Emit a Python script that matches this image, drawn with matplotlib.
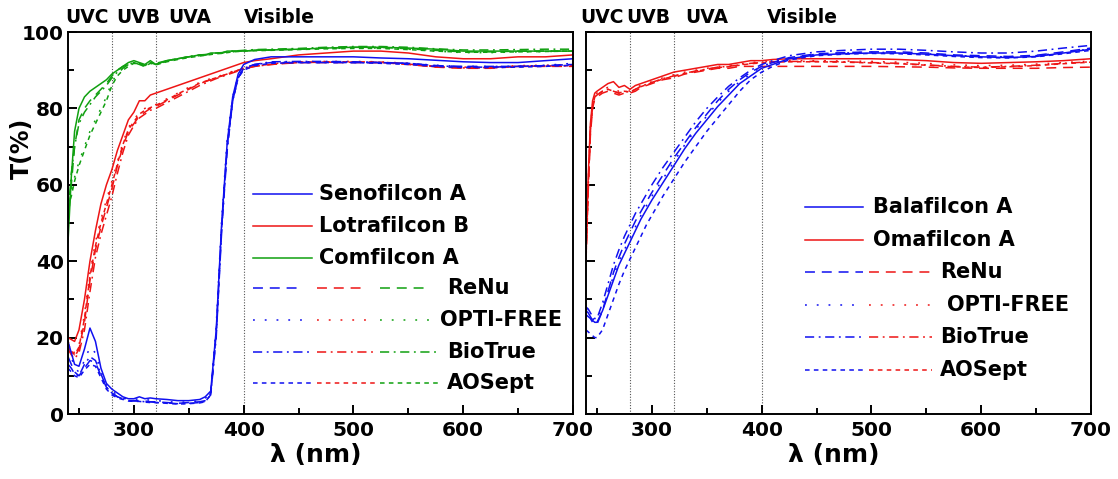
import numpy as np
import matplotlib
matplotlib.use("Agg")
import matplotlib.pyplot as plt
from matplotlib.ticker import MultipleLocator

plt.rcParams['font.family'] = ['DejaVu Sans']
plt.rcParams['font.weight'] = 'bold'

# ---- data ----
wl_left = [240, 243, 246, 250, 255, 260, 265, 270, 275, 280, 285, 290, 295, 300, 305,
           310, 315, 320, 330, 340, 350, 360, 365, 370, 375, 380, 385, 390, 395, 400,
           410, 425, 450, 475, 500, 525, 550, 575, 600, 625, 650, 675, 700]

seno_none = [19, 16, 13, 12.5, 17, 22.5, 19, 12, 8, 6.5, 5.5, 4.5, 4, 4, 4.5, 4, 4.2, 4, 3.8, 3.5,
             3.5, 3.8, 4.5, 6, 22, 50, 71, 83, 89, 91.5, 92.8, 93.5, 93.5, 93.5, 93.5, 93.2, 93, 92.6,
             92.2, 92, 92, 92.5, 93]
seno_renu = [15, 13, 11, 10, 12, 14, 13.5, 10, 7, 5.5, 4.5, 4, 3.5, 3.5, 3.5, 3.4, 3.2, 3.2, 3, 2.8,
             3, 3.2, 3.5, 5.5, 21, 49, 70, 82, 88, 90.5, 91.5, 92, 92, 92, 92, 92, 91.8, 91.2, 91, 91,
             91, 91.2, 91.5]
seno_opti = [17, 15, 12, 11, 14, 17.5, 16, 11, 7.5, 6, 5, 4.2, 3.8, 3.8, 4, 3.8, 3.6, 3.5, 3.3, 3,
             3.2, 3.4, 4, 6, 23, 51, 72, 83, 88.5, 90.5, 91.5, 92, 92.2, 92.2, 92, 92, 91.8, 91.3, 91,
             91, 91, 91.3, 91.8]
seno_bio = [13, 12, 10.5, 10, 13, 15, 14, 10.5, 7, 5.5, 4.5, 4, 3.5, 3.4, 3.4, 3.2, 3.2, 3, 2.9, 2.7,
            2.8, 3, 3.3, 5, 20, 48, 69, 82, 88, 90.5, 91.5, 92.2, 92.3, 92.3, 92.2, 92, 91.8, 91.2,
            90.8, 90.8, 91, 91.2, 91.5]
seno_aosept = [12, 11, 10, 9.5, 11.5, 13, 12.5, 9.5, 6.5, 5, 4.2, 3.8, 3.4, 3.3, 3.3, 3.1, 3, 3, 2.8,
               2.6, 2.7, 2.9, 3.2, 5, 21, 49, 70, 82, 88, 90, 91.2, 91.8, 92, 92, 92, 91.8, 91.5, 91,
               90.7, 90.7, 90.8, 91, 91.3]

lotra_none = [20, 19.5, 19, 22, 30, 40, 48, 55, 60, 64, 69, 73, 77, 79, 82, 82, 83.5, 84, 85, 86,
              87, 88, 88.5, 89, 89.5, 90, 90.5, 91, 91.5, 92, 92.5, 93, 94, 94.5, 95, 95, 94.5, 93.5,
              93, 93, 93.5, 93.5, 94]
lotra_renu = [18, 16, 15, 17, 24, 35, 43, 49, 54, 59, 65, 70, 74, 76, 78, 79, 80, 80.5, 82, 83.5,
              85, 86.5, 87, 87.5, 88, 88.5, 89, 89.5, 90, 90.5, 91, 91.5, 92, 92, 92, 92, 91.5, 90.8,
              90.5, 90.5, 91, 91, 91]
lotra_opti = [19, 17, 16, 18, 26, 37, 45, 51, 56, 61, 66, 71, 75, 77, 79, 80, 80.5, 81, 82.5, 84,
              85.5, 86.8, 87.3, 87.8, 88.2, 88.7, 89.2, 89.7, 90.2, 90.6, 91.2, 91.7, 92.2, 92.3,
              92.3, 92.2, 91.8, 91, 90.8, 90.8, 91.2, 91.3, 91.4]
lotra_bio = [17, 15.5, 14.5, 16, 22, 32, 41, 47, 52, 57, 63, 68.5, 73, 75.5, 77.5, 78.5, 79.5, 80,
             81.5, 83, 84.5, 86, 86.6, 87.2, 87.8, 88.3, 88.8, 89.3, 89.8, 90.3, 91, 91.5, 92, 92.1,
             92.1, 92, 91.6, 90.9, 90.6, 90.7, 91, 91.1, 91.2]
lotra_aosept = [18.5, 16.5, 15.5, 17.5, 25, 36, 44, 50, 55, 60, 65.5, 70.5, 74.5, 76.5, 78.5, 79.5,
                80.2, 80.8, 82.2, 83.8, 85.2, 86.6, 87.1, 87.6, 88, 88.5, 89, 89.5, 90, 90.4, 91.1,
                91.6, 92.1, 92.2, 92.2, 92.1, 91.7, 90.9, 90.6, 90.6, 91, 91.1, 91.2]

comf_none = [45, 62, 74, 80, 83, 84.5, 85.5, 86.5, 87.5, 89, 90, 91, 92, 92.5, 92, 91.5, 92.5, 91.5,
             92.5, 93, 93.5, 94, 94, 94.5, 94.5, 94.5, 95, 95, 95, 95, 95.2, 95.3, 95.5, 95.8, 96, 96,
             95.8, 95.5, 95, 95, 95, 95, 95]
comf_renu = [50, 60, 70, 77, 80, 82, 83.5, 85, 86.5, 88.5, 90, 91, 91.5, 92, 91.5, 91.5, 92, 91.5,
             92.5, 93, 93.5, 94, 94, 94.2, 94.5, 94.5, 94.8, 95, 95, 95, 95.2, 95.3, 95.5, 95.8, 96,
             96, 95.6, 95.2, 94.8, 94.8, 95, 95, 95]
comf_opti = [56, 58, 62, 66, 70, 74, 77, 80, 83, 87, 89, 90.5, 91.5, 92, 91.5, 91, 92, 91.5, 92.3,
             93, 93.5, 93.8, 94, 94.2, 94.3, 94.5, 94.7, 94.8, 95, 95, 95.2, 95.3, 95.5, 95.7, 95.8,
             95.8, 95.5, 95, 94.6, 94.6, 94.8, 94.9, 95]
comf_bio = [52, 63, 70, 76, 79, 81, 83, 84.5, 86, 88, 89.5, 90.5, 91.5, 92, 91.8, 91.2, 92, 91.8,
            92.5, 93, 93.6, 94, 94.1, 94.3, 94.5, 94.6, 94.8, 95, 95.1, 95.2, 95.4, 95.5, 95.7, 96,
            96.2, 96.2, 96, 95.6, 95.3, 95.3, 95.4, 95.5, 95.5]
comf_aosept = [54, 57, 61, 65, 69, 73, 76, 79, 82, 86, 88.5, 90, 91, 91.8, 91.5, 91, 91.8, 91.4,
               92.2, 92.8, 93.3, 93.7, 93.9, 94.1, 94.3, 94.4, 94.6, 94.8, 94.9, 95, 95.1, 95.2,
               95.4, 95.6, 95.7, 95.7, 95.4, 95, 94.7, 94.7, 94.8, 94.9, 95]

wl_right = [240, 242, 244, 246, 248, 250, 255, 260, 265, 270, 275, 280, 285, 290, 295, 300, 310,
            320, 330, 340, 350, 360, 370, 380, 390, 400, 410, 425, 450, 475, 500, 525, 550, 575,
            600, 625, 650, 675, 700]

bala_none = [27, 26.5, 25.5, 24.5, 24, 24, 27, 31, 35, 39, 42, 45, 48, 51, 53.5, 56, 60.5, 65, 69.5,
             73.5, 77, 80.5, 83.5, 86.5, 88.5, 90.5, 91.5, 93, 94, 94.3, 94.5, 94.5, 94.2, 93.8,
             93.5, 93.3, 93.6, 94.5, 95.5]
bala_renu = [26, 25.5, 25, 24, 23.5, 23.5, 27, 32, 37, 41, 44.5, 47.5, 50.5, 53, 55.5, 58, 62.5, 67,
             71, 75, 78.5, 82, 85, 87.5, 89.5, 91, 92, 93.3, 94.3, 94.6, 94.8, 94.8, 94.5, 94, 93.8,
             93.6, 93.9, 94.8, 95.8]
bala_opti = [27.5, 27, 26, 25, 24.5, 24.5, 28, 32, 36, 40, 43, 46, 49, 52, 54.5, 57, 61.5, 66, 70.5,
             74.5, 78, 81.5, 84.5, 87, 89, 91, 92, 93.2, 94.2, 94.5, 94.7, 94.6, 94.3, 93.9, 93.6,
             93.5, 93.8, 94.6, 95.6]
bala_bio = [28, 27.5, 26.5, 25.5, 25, 25, 29, 34, 39, 43, 46.5, 49.5, 52.5, 55, 57.5, 60, 64.5,
            68.5, 72.5, 76.5, 80, 83, 85.8, 88, 90, 91.5, 92.5, 93.8, 94.8, 95.2, 95.5, 95.5, 95.2,
            94.8, 94.5, 94.5, 95, 95.8, 96.5]
bala_aosept = [22, 21.5, 21, 20.5, 20, 20, 22, 26, 30, 34, 37.5, 40.5, 43.5, 46.5, 49.5, 52, 57,
               61.5, 66, 70, 74, 77.5, 81, 84.5, 87.5, 89.5, 91, 92.7, 93.8, 94.2, 94.4, 94.3, 94,
               93.6, 93.3, 93.2, 93.5, 94.3, 95.2]

oma_none = [42, 62, 76, 82, 84, 84.5, 85.5, 86.5, 87, 85.5, 86, 85, 86, 86.5, 87, 87.5, 88.5, 89.5,
            90, 90.5, 91, 91.5, 91.5, 92, 92.5, 92.5, 92.8, 93, 93, 93, 93, 92.8, 92.5, 92, 91.8,
            92, 92.2, 92.5, 93]
oma_renu = [40, 58, 73, 80, 82.5, 83, 84, 84.5, 84, 83.5, 84, 84, 84.5, 85.5, 86, 86.5, 87.5, 88,
            89, 89.5, 90, 90.5, 90.5, 91, 91, 91, 91, 91, 91, 91, 91, 90.9, 90.8, 90.6, 90.5, 90.5,
            90.5, 90.7, 90.8]
oma_opti = [41, 60, 75, 81, 83.5, 84, 85, 85.5, 85, 84.5, 85, 84.5, 85.5, 86, 86.5, 87, 88, 88.8,
            89.5, 90, 90.5, 91, 91.2, 91.6, 92, 92.2, 92.4, 92.5, 92.5, 92.4, 92.3, 92.1, 91.8,
            91.4, 91.2, 91.3, 91.6, 92, 92.4]
oma_bio = [41, 59, 74, 80.5, 83, 83.5, 84.5, 85, 84.5, 84, 84.5, 84.2, 85, 85.8, 86.3, 86.8, 87.8,
           88.5, 89.2, 89.8, 90.3, 90.8, 91, 91.4, 91.8, 92, 92.2, 92.3, 92.3, 92.2, 92, 91.8, 91.4,
           91, 90.8, 91, 91.3, 91.8, 92.2]
oma_aosept = [40.5, 59, 74, 80.5, 83, 83.5, 84.5, 85, 84.5, 84, 84.5, 84.3, 85, 85.7, 86.2, 86.7,
              87.7, 88.4, 89.1, 89.7, 90.2, 90.7, 90.9, 91.3, 91.7, 91.9, 92.1, 92.2, 92.2, 92.1,
              91.9, 91.7, 91.3, 90.9, 90.7, 90.9, 91.2, 91.7, 92.1]

region_names = ['UVC', 'UVB', 'UVA', 'Visible']
region_pos_left = [257, 304, 351, 433]
region_pos_right = [255, 297, 350, 437]
region_bounds = [280, 320, 400]

solutions = ['ReNu', 'OPTI-FREE', 'BioTrue', 'AOSept']

# ---- styles ----
BLUE, RED, GREEN = '#1010f0', '#ee1515', '#10a010'
LW = 1.1
styles = ['-', (0, (6.5, 4.5)), (0, (1.2, 6.5)), (0, (6, 3, 1.2, 3)), (0, (3, 2.8))]

W, H = 1118, 479
fig = plt.figure(figsize=(W / 100, H / 100), dpi=100)
ax_l = fig.add_axes([68 / W, (H - 414) / H, 505 / W, 382 / H])
ax_r = fig.add_axes([586 / W, (H - 414) / H, 505 / W, 382 / H])


def setup(ax, ylabels, region_pos):
    ax.set_xlim(240, 700)
    ax.set_ylim(0, 100)
    ax.xaxis.set_major_locator(MultipleLocator(100))
    ax.xaxis.set_minor_locator(MultipleLocator(50))
    ax.yaxis.set_major_locator(MultipleLocator(20))
    ax.yaxis.set_minor_locator(MultipleLocator(10))
    ax.tick_params(which='both', direction='in', width=1.4, top=False, right=False,
                   labelsize=14.5)
    ax.tick_params(which='major', length=6.5)
    ax.tick_params(which='minor', length=4.3)
    ax.tick_params(axis='x', pad=5)
    ax.tick_params(axis='y', pad=3, labelleft=ylabels)
    for s in ax.spines.values():
        s.set_linewidth(1.4)
    for b in region_bounds:
        ax.axvline(b, color='#555555', lw=0.8, ls=(0, (1, 1.5)), zorder=1)
    for name, p in zip(region_names, region_pos):
        ax.text(p, 1.037, name, transform=ax.get_xaxis_transform(), ha='center',
                va='center', fontsize=13.5, fontweight='bold')
    ax.text(0.49, -0.107, 'λ (nm)', transform=ax.transAxes, ha='center', va='center',
            fontsize=18, fontweight='bold')


def draw_group(ax, wl, series, color):
    for vals, st in zip(series, styles):
        ax.plot(wl, vals, color=color, lw=LW, ls=st, zorder=2)


setup(ax_l, True, region_pos_left)
setup(ax_r, False, region_pos_right)

draw_group(ax_l, wl_left, [lotra_none, lotra_renu, lotra_opti, lotra_bio, lotra_aosept], RED)
draw_group(ax_l, wl_left, [comf_none, comf_renu, comf_opti, comf_bio, comf_aosept], GREEN)
draw_group(ax_l, wl_left, [seno_none, seno_renu, seno_opti, seno_bio, seno_aosept], BLUE)

draw_group(ax_r, wl_right, [oma_none, oma_renu, oma_opti, oma_bio, oma_aosept], RED)
draw_group(ax_r, wl_right, [bala_none, bala_renu, bala_opti, bala_bio, bala_aosept], BLUE)

fig.text(22 / W, (H - 148) / H, 'T(%)', rotation=90, ha='center', va='center',
         fontsize=17, fontweight='bold')


# ---- hand-made legends (Origin style) ----
def legend(ax, left_px, lens_rows, sol_rows):
    def ax_xy(px, py):
        return (px - left_px) / 505, (414 - py) / 382

    for label, color, py, (x0, x1), tx in lens_rows:
        (a, y), (b, _) = ax_xy(x0, py), ax_xy(x1, py)
        ax.plot([a, b], [y, y], color=color, lw=LW, transform=ax.transAxes, clip_on=False)
        ax.text(ax_xy(tx, py)[0], y, label, transform=ax.transAxes, ha='left', va='center',
                fontsize=15, fontweight='bold')
    for label, st, py, segs, colors, tx in sol_rows:
        y = ax_xy(0, py)[1]
        for (x0, x1), c in zip(segs, colors):
            ax.plot([ax_xy(x0, py)[0], ax_xy(x1, py)[0]], [y, y], color=c, lw=LW, ls=st,
                    transform=ax.transAxes, clip_on=False)
        ax.text(ax_xy(tx, py)[0], y, label, transform=ax.transAxes, ha='left', va='center',
                fontsize=15, fontweight='bold')


segs_a = [(253, 303), (317, 367), (380, 430)]
segs_b = [(253, 312), (317, 375), (380, 438)]
legend(ax_l, 68,
       [('Senofilcon A', BLUE, 194, (253, 312), 319),
        ('Lotrafilcon B', RED, 226, (253, 312), 319),
        ('Comfilcon A', GREEN, 258, (253, 312), 319)],
       [(solutions[0], styles[1], 288, segs_a, [BLUE, RED, GREEN], 447),
        (solutions[1], styles[2], 320, segs_a, [BLUE, RED, GREEN], 440),
        (solutions[2], styles[3], 352, segs_b, [BLUE, RED, GREEN], 447),
        (solutions[3], styles[4], 383, segs_b, [BLUE, RED, GREEN], 447)])

segs_c = [(805, 863), (869, 932)]
legend(ax_r, 586,
       [('Balafilcon A', BLUE, 207, (805, 863), 873),
        ('Omafilcon A', RED, 240, (805, 863), 873)],
       [(solutions[0], styles[1], 272, segs_c, [BLUE, RED], 940),
        (solutions[1], styles[2], 305, segs_c, [BLUE, RED], 947),
        (solutions[2], styles[3], 337, segs_c, [BLUE, RED], 940),
        (solutions[3], styles[4], 370, segs_c, [BLUE, RED], 940)])

fig.savefig('out.png', dpi=100)
